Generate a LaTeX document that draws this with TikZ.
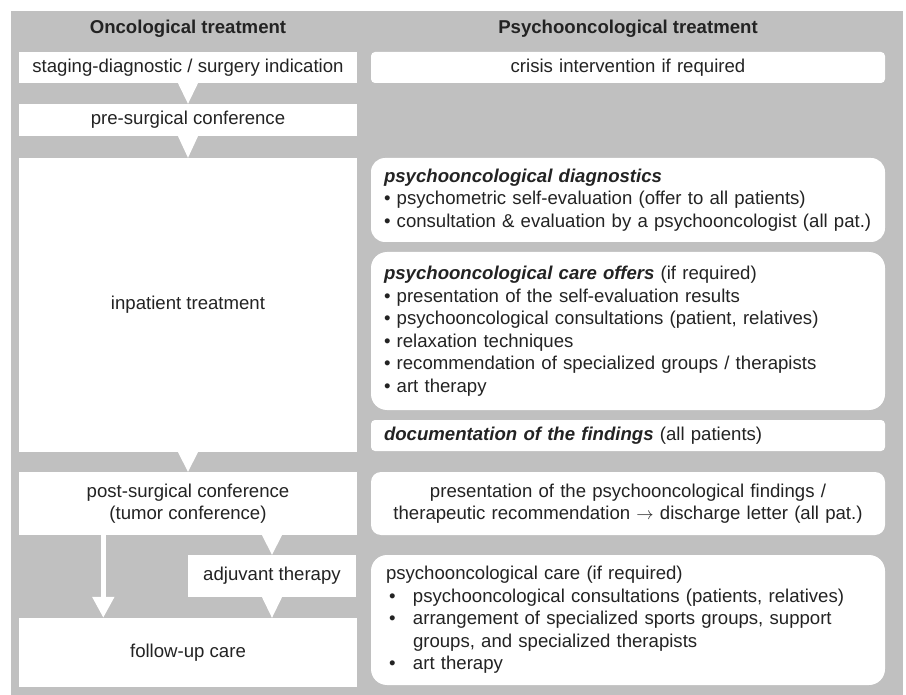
\documentclass[tikz,border=0pt]{standalone}
\usepackage{fontspec}
\setmainfont{Liberation Sans}
\usetikzlibrary{arrows.meta}
\definecolor{panelgray}{RGB}{192,192,192}
\definecolor{inkgray}{RGB}{35,35,35}
\newcommand{\hangbullet}{\makebox[27pt][l]{\hspace{3pt}•}}

\begin{document}
\begin{tikzpicture}[x=1pt, y=-1pt,
		font=\fontsize{18.6}{22.5}\selectfont, text=inkgray,
		head/.style={font=\fontsize{18.6}{22.5}\selectfont\bfseries},
		oncbox/.style={fill=white, inner sep=0pt, minimum width=338pt, align=center},
		psybox/.style={fill=white, inner xsep=13pt, inner ysep=0pt, text width=488pt, rounded corners=#1},
		psybox/.default=15pt]
			\useasboundingbox (0, 0) rectangle (906, 695);
			\fill[panelgray] (11, 11) rectangle (903, 695);

			\node[head] (onchead) at (188, 29) {Oncological treatment};
			\node[head] (psyhead) at (628, 29) {Psychooncological treatment};

			\node[oncbox, minimum height=31pt] (staging) at (188, 67.5) {staging-diagnostic / surgery indication};
			\node[oncbox, minimum height=32pt] (presurg) at (188, 120) {pre-surgical conference};
			\node[oncbox, minimum height=294pt] (inpatient) at (188, 305) {inpatient treatment};
			\node[oncbox, minimum height=63pt] (postsurg) at (188, 503.5) {post-surgical conference\\(tumor conference)};
			\node[oncbox, minimum width=168pt, minimum height=42pt] (adjuvant) at (272, 576) {adjuvant therapy};
			\node[oncbox, minimum height=69pt] (followup) at (188, 652.5) {follow-up care};

			\node[psybox=4pt, align=center, minimum height=31pt] (crisis) at (628, 67.5) {crisis intervention if required};
			\node[psybox=14pt, align=left, minimum height=84pt] (diag) at (628, 200) {\textbf{\textit{psychooncological diagnostics}}\\
				• psychometric self-evaluation (offer to all patients)\\
				• consultation \& evaluation by a psychooncologist (all pat.)};
			\node[psybox=16pt, align=left, minimum height=158pt] (offers) at (628, 331) {\textbf{\textit{psychooncological care offers}} (if required)\\
				• presentation of the self-evaluation results\\
				• psychooncological consultations (patient, relatives)\\
				• relaxation techniques\\
				• recommendation of specialized groups / therapists\\
				• art therapy};
			\node[psybox=4pt, align=left, minimum height=31pt] (docu) at (628, 435.5) {\textbf{\textit{documentation of the findings}} (all patients)};
			\node[psybox=10pt, align=center, minimum height=63pt] (present) at (628, 503.5) {presentation of the psychooncological findings /\\
				therapeutic recommendation $\rightarrow$ discharge letter (all pat.)};
			\node[psybox=16pt, inner xsep=15pt, text width=484pt, align=left, minimum height=130pt] (care) at (628, 620) {psychooncological care (if required)\\
				\hangbullet psychooncological consultations (patients, relatives)\\
				\hangbullet arrangement of specialized sports groups, support\\
				\hspace*{27pt}groups, and specialized therapists\\
				\hangbullet art therapy};

			\fill[white] ([xshift=-10pt]staging.south) -- ([xshift=10pt]staging.south) -- (presurg.north) -- cycle;
			\fill[white] ([xshift=-10pt]presurg.south) -- ([xshift=10pt]presurg.south) -- (inpatient.north) -- cycle;
			\fill[white] ([xshift=-10pt]inpatient.south) -- ([xshift=10pt]inpatient.south) -- (postsurg.north) -- cycle;
			\fill[white] ([xshift=-10pt]postsurg.south -| adjuvant.north) -- ([xshift=10pt]postsurg.south -| adjuvant.north) -- (adjuvant.north) -- cycle;
			\fill[white] ([xshift=-10pt]adjuvant.south) -- ([xshift=10pt]adjuvant.south) -- (followup.north -| adjuvant.south) -- cycle;
			\draw[white, line width=5pt, -{Triangle[width=21pt, length=21pt]}] ([xshift=84.5pt]postsurg.south west) -- ([xshift=84.5pt]followup.north west);
		\end{tikzpicture}
\end{document}
